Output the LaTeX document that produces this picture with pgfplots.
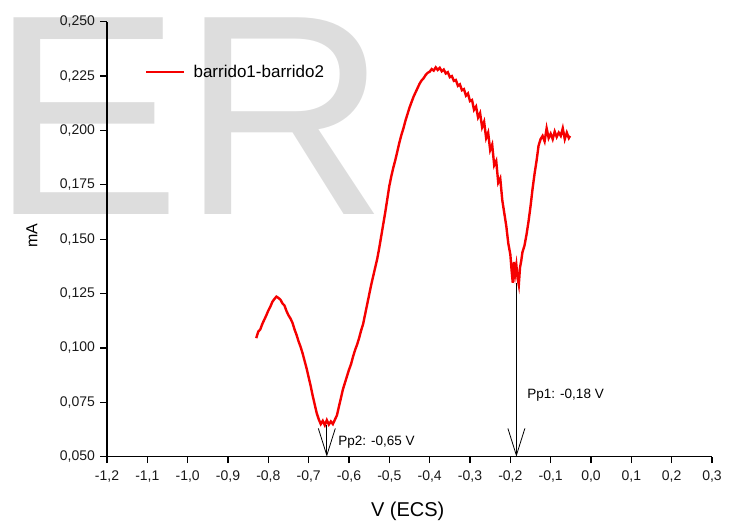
\documentclass[border=0pt]{standalone}
\usepackage{fontspec}
\setmainfont{Liberation Sans}
\usepackage{pgfplots}
\pgfplotsset{compat=1.18}
\usetikzlibrary{arrows.meta}
\definecolor{wm}{RGB}{221,221,221}
\definecolor{curve}{RGB}{245,0,0}

\begin{document}
\begin{tikzpicture}
\useasboundingbox (0pt,0pt) rectangle (734pt,523pt);
% watermark
\node[anchor=base west, inner sep=0pt, text=wm, font=\fontsize{286}{290}\selectfont] at (-9.6pt,308pt) {ER};
\begin{axis}[
    at={(107pt,66.3pt)}, anchor=south west,
    scale only axis, width=605pt, height=435pt,
    xmin=-1.2, xmax=0.3, ymin=0.05, ymax=0.25,
    axis x line*=bottom, axis y line*=left,
    axis line style={black, line width=1.2pt},
    tick style={black, line width=1.2pt},
    tick align=outside, major tick length=6.5pt,
    xtick={-1.2,-1.1,-1.0,-0.9,-0.8,-0.7,-0.6,-0.5,-0.4,-0.3,-0.2,-0.1,0,0.1,0.2,0.3},
    ytick={0.05,0.075,0.1,0.125,0.15,0.175,0.2,0.225,0.25},
    x tick label style={/pgf/number format/fixed, /pgf/number format/fixed zerofill,
        /pgf/number format/precision=1, /pgf/number format/use comma,
        /pgf/number format/assume math mode=true,
        font=\fontsize{14}{16}\selectfont, yshift=-4pt, text=black!90},
    y tick label style={/pgf/number format/fixed, /pgf/number format/fixed zerofill,
        /pgf/number format/precision=3, /pgf/number format/use comma,
        /pgf/number format/assume math mode=true,
        font=\fontsize{14}{16}\selectfont, xshift=-2pt, text=black!90},
    xlabel={V (ECS)},
    xlabel style={at={(axis description cs:0.497,0)}, anchor=base, yshift=-60pt, font=\fontsize{20}{22}\selectfont},
    ylabel={mA},
    ylabel style={at={(axis description cs:-0.124,0.508)}, anchor=center, font=\fontsize{16}{18}\selectfont},
    legend style={at={(axis cs:-1.1058,0.2270)}, anchor=west, draw=none, fill=none, inner sep=0pt, font=\fontsize{17}{19}\selectfont},
    legend image code/.code={\draw[#1] (0pt,0pt) -- (38pt,0pt);},
    legend cell align=left,
]
\addplot[curve, line width=2.4pt] coordinates {
(-0.830,0.1045) (-0.825,0.1075) (-0.820,0.1085) (-0.815,0.1110) (-0.810,0.1130)
(-0.805,0.1150) (-0.800,0.1172) (-0.795,0.1190) (-0.790,0.1212) (-0.785,0.1225)
(-0.780,0.1236) (-0.775,0.1230) (-0.770,0.1222) (-0.765,0.1205) (-0.760,0.1195)
(-0.755,0.1170) (-0.750,0.1150) (-0.745,0.1135) (-0.740,0.1115) (-0.735,0.1085)
(-0.730,0.1060) (-0.725,0.1030) (-0.720,0.1005) (-0.715,0.0975) (-0.710,0.0940)
(-0.705,0.0905) (-0.700,0.0865) (-0.695,0.0825) (-0.690,0.0780) (-0.685,0.0740)
(-0.680,0.0700) (-0.675,0.0672) (-0.670,0.0650) (-0.665,0.0665) (-0.660,0.0645)
(-0.655,0.0668) (-0.650,0.0648) (-0.645,0.0662) (-0.640,0.0650) (-0.635,0.0670)
(-0.630,0.0690) (-0.625,0.0730) (-0.620,0.0770) (-0.615,0.0810) (-0.610,0.0840)
(-0.605,0.0870) (-0.600,0.0900) (-0.595,0.0925) (-0.590,0.0960) (-0.585,0.0990)
(-0.580,0.1015) (-0.575,0.1045) (-0.570,0.1080) (-0.565,0.1110) (-0.560,0.1155)
(-0.555,0.1200) (-0.550,0.1245) (-0.545,0.1290) (-0.540,0.1330) (-0.535,0.1370)
(-0.530,0.1410) (-0.525,0.1460) (-0.520,0.1515) (-0.515,0.1570) (-0.510,0.1625)
(-0.505,0.1685) (-0.500,0.1745) (-0.495,0.1790) (-0.490,0.1830) (-0.485,0.1865)
(-0.480,0.1905) (-0.475,0.1945) (-0.470,0.1980) (-0.465,0.2010) (-0.460,0.2045)
(-0.455,0.2075) (-0.450,0.2105) (-0.445,0.2130) (-0.440,0.2155) (-0.435,0.2175)
(-0.430,0.2195) (-0.425,0.2215) (-0.420,0.2230) (-0.415,0.2240) (-0.410,0.2255)
(-0.405,0.2265) (-0.400,0.2270) (-0.395,0.2282) (-0.390,0.2275) (-0.385,0.2290)
(-0.380,0.2278) (-0.375,0.2288) (-0.370,0.2272) (-0.365,0.2280) (-0.360,0.2262)
(-0.355,0.2268) (-0.350,0.2245) (-0.345,0.2250) (-0.340,0.2228) (-0.335,0.2232)
(-0.330,0.2205) (-0.325,0.2212) (-0.320,0.2185) (-0.315,0.2190) (-0.310,0.2160)
(-0.305,0.2170) (-0.300,0.2135) (-0.295,0.2140) (-0.290,0.2095) (-0.285,0.2110)
(-0.280,0.2060) (-0.275,0.2080) (-0.270,0.2015) (-0.265,0.2040) (-0.260,0.1965)
(-0.255,0.1990) (-0.250,0.1910) (-0.245,0.1935) (-0.240,0.1840) (-0.235,0.1860)
(-0.230,0.1760) (-0.225,0.1780) (-0.220,0.1680) (-0.215,0.1620) (-0.210,0.1560)
(-0.205,0.1480) (-0.200,0.1430) (-0.197,0.1360) (-0.194,0.1300) (-0.191,0.1395)
(-0.188,0.1340) (-0.185,0.1380) (-0.182,0.1320) (-0.179,0.1290) (-0.176,0.1370)
(-0.173,0.1400) (-0.170,0.1440) (-0.165,0.1470) (-0.160,0.1520) (-0.155,0.1580)
(-0.150,0.1650) (-0.145,0.1730) (-0.140,0.1800) (-0.135,0.1860) (-0.130,0.1930)
(-0.125,0.1960) (-0.120,0.1975) (-0.115,0.1950) (-0.110,0.2010) (-0.105,0.1965)
(-0.100,0.1985) (-0.095,0.1960) (-0.090,0.1995) (-0.085,0.1970) (-0.080,0.1990)
(-0.075,0.1975) (-0.070,0.2010) (-0.065,0.1960) (-0.060,0.1990) (-0.055,0.1965)
(-0.052,0.1975)
};
\addlegendentry{\hspace{6pt}barrido1-barrido2}
% peak markers
\draw[black, line width=0.8pt, -{Straight Barb[length=27pt, width=17pt]}] (axis cs:-0.655,0.0648) -- (axis cs:-0.655,0.05);
\draw[black, line width=0.8pt, -{Straight Barb[length=27pt, width=17pt]}] (axis cs:-0.185,0.1300) -- (axis cs:-0.185,0.05);
\node[anchor=west, inner sep=0pt, font=\fontsize{13.5}{15}\selectfont] at (axis cs:-0.627,0.0569) {Pp2: -0,65 V};
\node[anchor=west, inner sep=0pt, font=\fontsize{13.5}{15}\selectfont] at (axis cs:-0.158,0.0785) {Pp1: -0,18 V};
\end{axis}
\end{tikzpicture}
\end{document}
